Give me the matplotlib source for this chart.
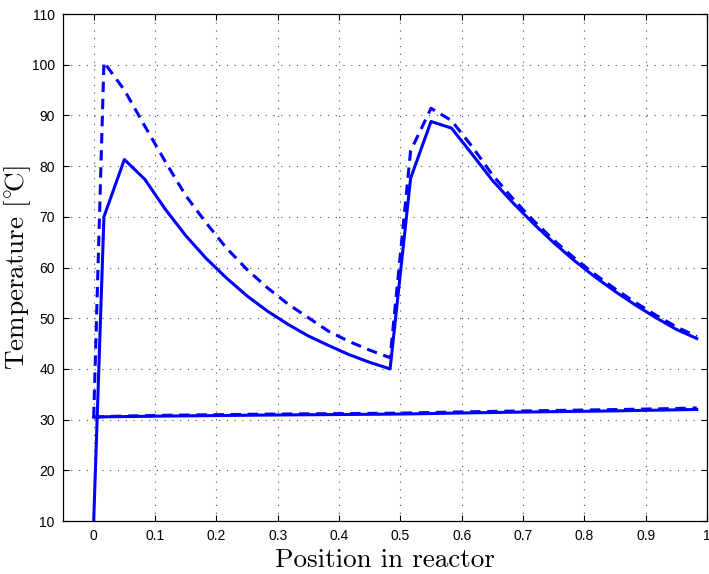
"""Reactor temperature profile, solid vs dashed case (MATLAB-style figure)."""
import matplotlib
matplotlib.use("Agg")  # non-interactive backend
import matplotlib.pyplot as plt  # noqa: E402

# ── data ─────────────────────────────────────────────────────────────
position = [0, 0.0167, 0.05, 0.0833, 0.1167, 0.15, 0.1833, 0.2167, 0.25,
            0.2833, 0.3167, 0.35, 0.3833, 0.4167, 0.45, 0.4833, 0.5167,
            0.55, 0.5833, 0.6167, 0.65, 0.6833, 0.7167, 0.75, 0.7833,
            0.8167, 0.85, 0.8833, 0.9167, 0.95, 0.9833]

temp_solid = [10, 70.0, 81.3, 77.4, 71.5, 66.3, 61.8, 57.9, 54.4, 51.4,
              48.8, 46.5, 44.6, 42.8, 41.3, 40.0, 77.6, 88.8, 87.5, 82.4,
              77.2, 72.8, 68.7, 64.9, 61.4, 58.2, 55.3, 52.6, 50.1, 47.8,
              46.0]
coolant_solid = [30.5, 30.55, 30.6, 30.65, 30.7, 30.74, 30.78, 30.82, 30.86,
                 30.9, 30.93, 30.96, 30.99, 31.02, 31.05, 31.08, 31.13,
                 31.2, 31.27, 31.34, 31.4, 31.46, 31.52, 31.57, 31.62,
                 31.67, 31.72, 31.8, 31.86, 31.93, 32.0]

temp_dashed = [30.5, 100.5, 95.0, 87.9, 80.9, 74.2, 68.8, 63.8, 59.6, 56.0,
               52.8, 50.1, 47.4, 45.4, 43.7, 42.2, 83.0, 91.4, 89.0, 83.9,
               78.3, 73.6, 69.3, 65.4, 61.9, 58.7, 55.8, 53.1, 50.6, 48.3,
               46.4]
coolant_dashed = [30.5, 30.6, 30.7, 30.78, 30.85, 30.9, 30.95, 31.0, 31.04,
                  31.08, 31.11, 31.14, 31.17, 31.2, 31.23, 31.26, 31.32,
                  31.4, 31.48, 31.55, 31.62, 31.68, 31.74, 31.8, 31.86,
                  31.92, 31.98, 32.05, 32.12, 32.2, 32.3]

x_ticks = [0, 0.1, 0.2, 0.3, 0.4, 0.5, 0.6, 0.7, 0.8, 0.9, 1.0]
x_tick_labels = ["0", "0.1", "0.2", "0.3", "0.4", "0.5", "0.6", "0.7",
                 "0.8", "0.9", "1"]
y_ticks = [10, 20, 30, 40, 50, 60, 70, 80, 90, 100, 110]

# ── figure ───────────────────────────────────────────────────────────
plt.rcParams["mathtext.fontset"] = "cm"

fig = plt.figure(figsize=(7.09, 5.74), dpi=100)
ax = fig.add_axes([0.0889, 0.0923, 0.9083, 0.8833])

blue = (0, 0, 1)
lw = 2.2
ax.plot(position, temp_solid, color=blue, lw=lw)
ax.plot(position, coolant_solid, color=blue, lw=lw)
ax.plot(position, temp_dashed, color=blue, lw=lw, ls="--", dashes=(3.4, 2.2))
ax.plot(position, coolant_dashed, color=blue, lw=lw, ls="--", dashes=(3.4, 2.2))

ax.set_xlim(-0.05, 1.0)
ax.set_ylim(10, 110)
ax.set_xticks(x_ticks)
ax.set_xticklabels(x_tick_labels)
ax.set_yticks(y_ticks)

ax.grid(True, ls=(0, (1, 6)), lw=0.8, color="0.3")
ax.tick_params(direction="in", length=4, width=0.8, top=True, right=True,
               labelsize=10, pad=6)
for lbl in ax.get_xticklabels() + ax.get_yticklabels():
    lbl.set_fontfamily("Liberation Sans")
for sp in ax.spines.values():
    sp.set_linewidth(0.9)

ax.set_xlabel("Position in reactor", fontfamily="cmr10", fontsize=19.5)
ax.xaxis.set_label_coords(0.5, -0.054)
ax.set_ylabel(r"Temperature [$^{\circ}\!$C]", fontfamily="cmr10",
              fontsize=19.5)
ax.yaxis.set_label_coords(-0.047, 0.5)

fig.savefig("out.png", dpi=100)
plt.close(fig)
